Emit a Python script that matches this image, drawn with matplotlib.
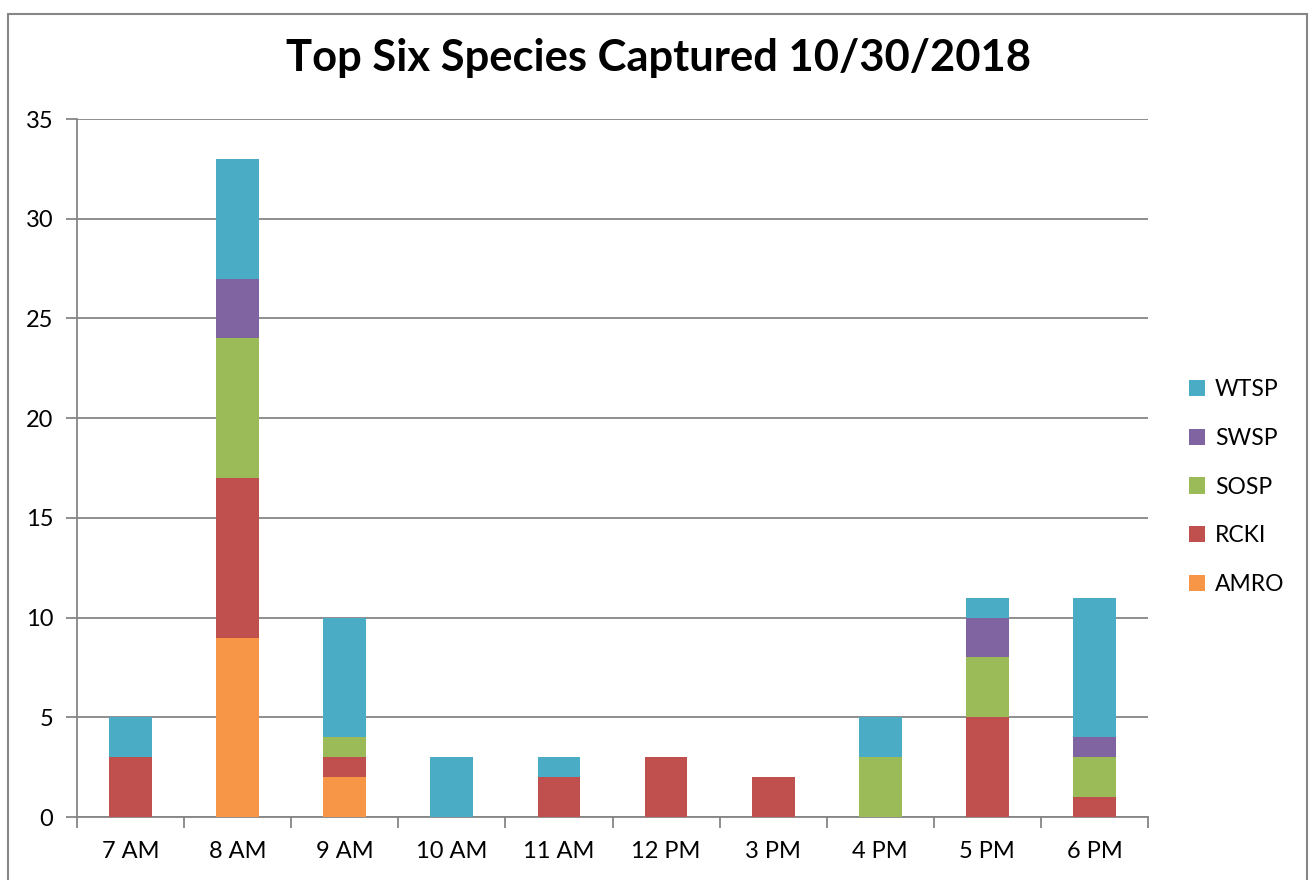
import numpy as np
import matplotlib
matplotlib.use("Agg")
import matplotlib.pyplot as plt
from matplotlib.patches import Rectangle, Patch

plt.rcParams["font.family"] = ["Lato", "DejaVu Sans"]

# data
hours = ["7 AM", "8 AM", "9 AM", "10 AM", "11 AM", "12 PM", "3 PM", "4 PM", "5 PM", "6 PM"]
amro = [0, 9, 2, 0, 0, 0, 0, 0, 0, 0]
rcki = [3, 8, 1, 0, 2, 3, 2, 0, 5, 1]
sosp = [0, 7, 1, 0, 0, 0, 0, 3, 3, 2]
swsp = [0, 3, 0, 0, 0, 0, 0, 0, 2, 1]
wtsp = [2, 6, 6, 3, 1, 0, 0, 2, 1, 7]

species = ["AMRO", "RCKI", "SOSP", "SWSP", "WTSP"]
colors = ["#F79646", "#C0504D", "#9BBB59", "#8064A2", "#4BACC6"]

fig = plt.figure(figsize=(13.1, 8.8), dpi=100)
ax = fig.add_axes([77 / 1310, 63 / 880, 1071 / 1310, 698 / 880])

# outer chart border
fig.patches.append(Rectangle((8 / 1310, -0.02), 1299 / 1310, 0.012 + 873 / 880,
                             transform=fig.transFigure, fill=False,
                             edgecolor="#868686", linewidth=1.5))

x = np.arange(len(hours))
bottom = np.zeros(len(hours))
for name, vals, col in zip(species, [amro, rcki, sosp, swsp, wtsp], colors):
    ax.bar(x, vals, width=0.4, bottom=bottom, color=col, linewidth=0,
           label=name, zorder=3)
    bottom += np.array(vals)

ax.set_xlim(-0.5, len(hours) - 0.5)
ax.set_ylim(0, 35)
ax.set_yticks(range(0, 36, 5))
ax.yaxis.grid(True, color="#868686", linewidth=1.3, zorder=0)
ax.set_axisbelow(True)

ax.set_xticks(x)
ax.set_xticklabels(hours, fontsize=17)
ax.tick_params(axis="x", length=0, pad=17)
ax.set_xticks(np.arange(-0.5, len(hours)), minor=True)
ax.tick_params(axis="x", which="minor", length=8, width=1.3, color="#868686")
ax.tick_params(axis="y", labelsize=17, length=8, width=1.3, color="#868686", pad=9)

for s in ["top", "right"]:
    ax.spines[s].set_visible(False)
for s in ["left", "bottom"]:
    ax.spines[s].set_color("#868686")
    ax.spines[s].set_linewidth(1.3)

fig.text(0.503, 1 - 58 / 880, "Top Six Species Captured 10/30/2018", ha="center", va="center",
         fontsize=31.3, fontweight="bold")

handles = [Patch(facecolor=c, label=n) for n, c in zip(species, colors)][::-1]
fig.legend(handles=handles, loc="center left", bbox_to_anchor=(1168 / 1310, 1 - 487 / 880),
           frameon=False, fontsize=16.5, handlelength=0.7, handleheight=0.7,
           handletextpad=0.45, labelspacing=1.22)

fig.savefig("out.png", dpi=100)
